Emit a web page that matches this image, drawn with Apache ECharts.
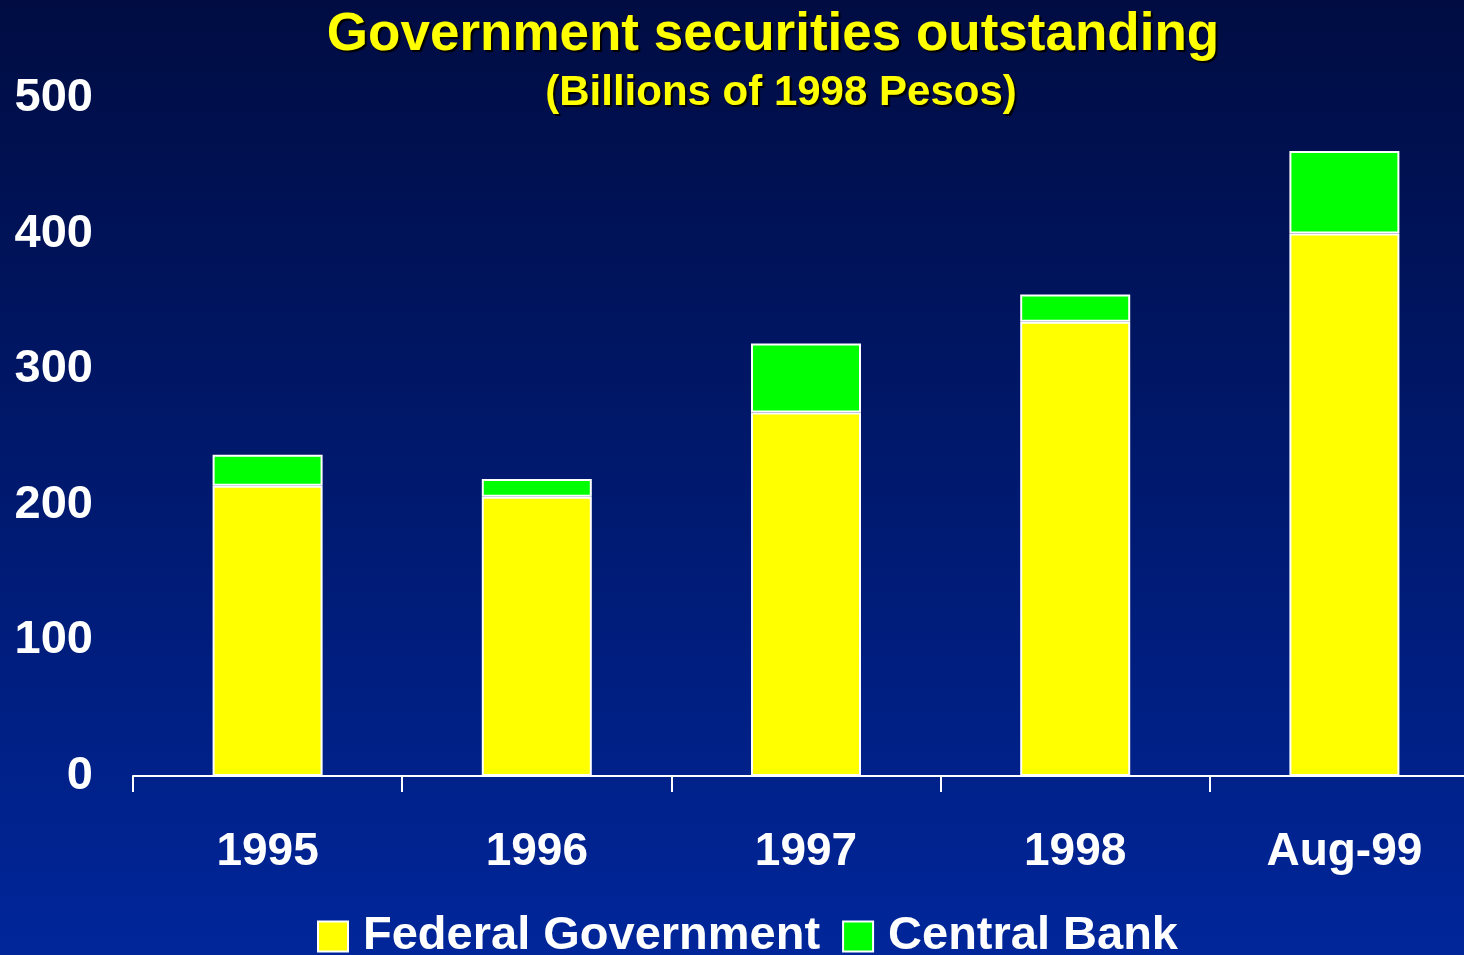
<!DOCTYPE html>
<html>
<head>
<meta charset="utf-8">
<script src="https://cdn.jsdelivr.net/npm/echarts@6/dist/echarts.min.js"></script>
<style>
  html, body { margin: 0; padding: 0; }
  #main { width: 1464px; height: 955px; }
</style>
</head>
<body>
<div id="main"></div>
<script>
// 数据
var categories = ['1995', '1996', '1997', '1998', 'Aug-99'];
var federalGov = [214, 206, 268, 335, 400];   // Federal Government
var centralBank = [23, 13, 51, 20, 61];       // Central Bank
var yTicks = [0, 100, 200, 300, 400, 500];

var myChart = echarts.init(document.getElementById('main'));

var shadow = { textShadowColor: '#000', textShadowOffsetX: 2, textShadowOffsetY: 2, textShadowBlur: 1 };
var font = 'Liberation Sans, Arial, sans-serif';

myChart.setOption({
    backgroundColor: new echarts.graphic.LinearGradient(0, 0, 0, 1, [
        { offset: 0, color: '#000c42' },
        { offset: 1, color: '#00269a' }
    ]),
    title: [
        {
            text: 'Government securities outstanding',
            left: 768, top: 4, textAlign: 'center',
            textStyle: Object.assign({ color: '#ffff00', fontSize: 53, fontWeight: 'bold', fontFamily: font }, shadow)
        },
        {
            text: '(Billions of 1998 Pesos)',
            left: 776, top: 67, textAlign: 'center',
            textStyle: Object.assign({ color: '#ffff00', fontSize: 42, fontWeight: 'bold', fontFamily: font }, shadow)
        }
    ],
    legend: {
        top: 908,
        left: 312,
        icon: 'rect',
        itemWidth: 30,
        itemHeight: 30,
        itemGap: 22,
        data: ['Federal Government', 'Central Bank'],
        itemStyle: { borderColor: '#fff', borderWidth: 2 },
        textStyle: { color: '#fff', fontSize: 47, fontWeight: 'bold', fontFamily: font, padding: [0, 0, 0, 10] }
    },
    grid: { left: 133, top: 98, width: 1346, bottom: 179, outerBoundsMode: 'none' },
    xAxis: {
        type: 'category',
        data: categories,
        axisLine: { lineStyle: { color: '#fff', width: 2 } },
        axisTick: { show: true, length: 16, lineStyle: { color: '#fff', width: 2 } },
        axisLabel: { color: '#fff', fontSize: 46, fontWeight: 'bold', margin: 53, fontFamily: font }
    },
    yAxis: {
        type: 'value',
        min: 0, max: 500, interval: 100,
        axisLine: { show: false },
        axisTick: { show: false },
        splitLine: { show: false },
        axisLabel: { color: '#fff', fontSize: 47, fontWeight: 'bold', margin: 40, fontFamily: font,
            formatter: function (v) { return yTicks.indexOf(v) >= 0 ? String(v) : ''; } }
    },
    series: [
        {
            name: 'Federal Government', type: 'bar', stack: 'total', barWidth: 110,
            data: federalGov,
            itemStyle: { color: '#ffff00', borderColor: '#fff', borderWidth: 2 }
        },
        {
            name: 'Central Bank', type: 'bar', stack: 'total', barWidth: 110,
            data: centralBank,
            itemStyle: { color: '#00ff00', borderColor: '#fff', borderWidth: 2 }
        }
    ]
});
</script>
</body>
</html>
